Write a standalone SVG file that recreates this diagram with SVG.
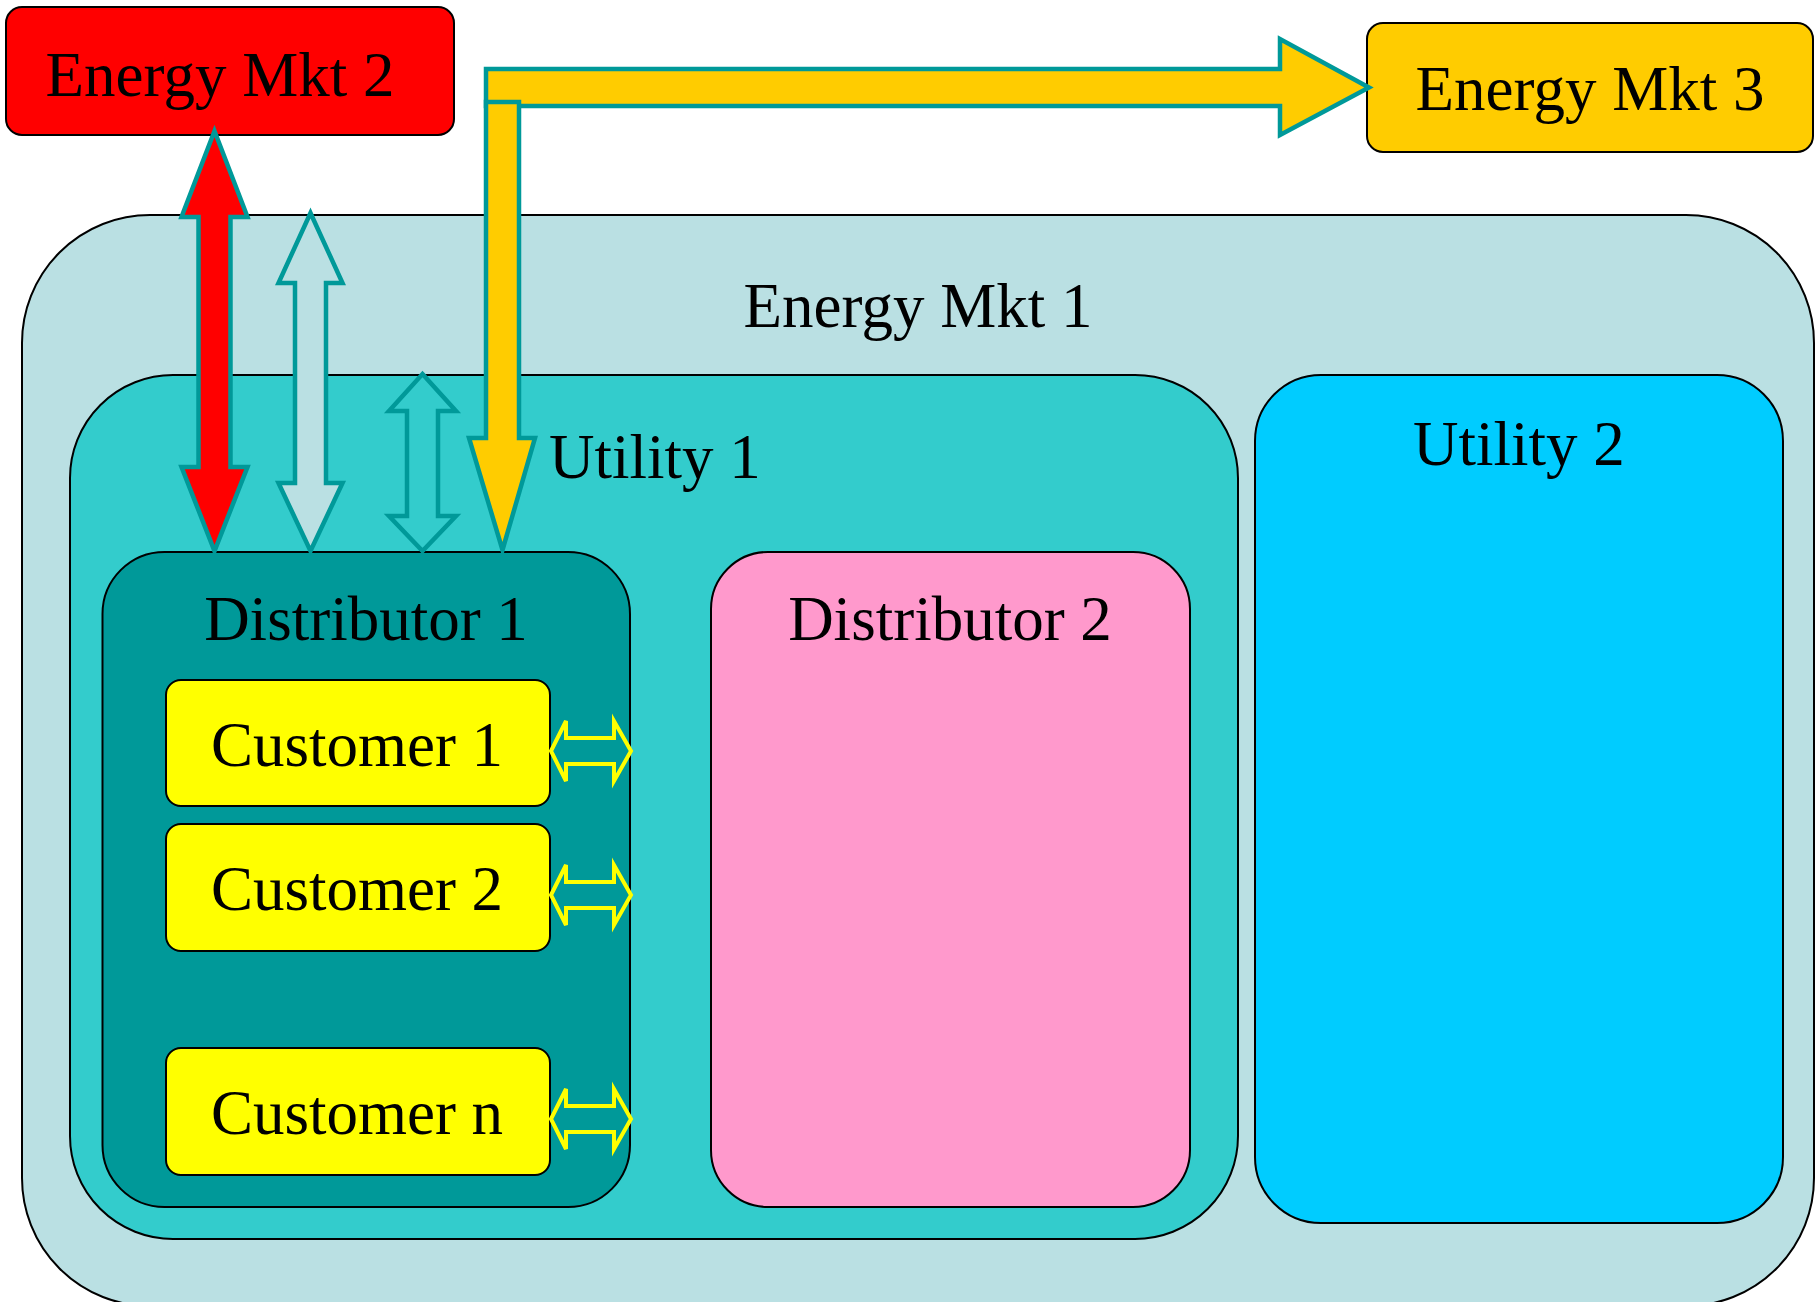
<svg xmlns="http://www.w3.org/2000/svg" width="1815" height="1302" viewBox="0 0 1815 1302">
<style>
.box{stroke:#000;stroke-width:2}
.lbl{font-family:"Liberation Serif","Times New Roman",serif;font-size:63px;fill:#000}
.mid{text-anchor:middle}
.arr{stroke:#009999;stroke-width:4.5;stroke-linejoin:miter}
.carr{stroke:#FFFF00;stroke-width:4;fill:#009999}
</style>
<rect width="1815" height="1302" fill="#fff"/>
<g id="energy-mkt-1">
<rect class="box" x="22" y="215" width="1792" height="1091" rx="128" fill="#BAE0E3"/>
<text class="lbl mid" x="918" y="327">Energy Mkt 1</text>
</g>
<g id="utility-1">
<rect class="box" x="70" y="375" width="1168" height="864" rx="103" fill="#33CCCC"/>
<text class="lbl" x="549" y="478">Utility 1</text>
</g>
<g id="utility-2">
<rect class="box" x="1255" y="375" width="528" height="848" rx="66" fill="#00CCFF"/>
<text class="lbl mid" x="1519" y="465">Utility 2</text>
</g>
<g id="distributor-1">
<rect class="box" x="102.5" y="552" width="527.5" height="655" rx="62" fill="#009999"/>
<text class="lbl mid" x="366" y="640">Distributor 1</text>
</g>
<g id="distributor-2">
<rect class="box" x="711" y="552" width="479" height="655" rx="57" fill="#FF99CC"/>
<text class="lbl mid" x="950" y="640">Distributor 2</text>
</g>
<g id="customer-1">
<rect class="box" x="166" y="680" width="384" height="126" rx="15" fill="#FFFF00"/>
<text class="lbl mid" x="357" y="766">Customer 1</text>
</g>
<g id="customer-2">
<rect class="box" x="166" y="824" width="384" height="127" rx="15" fill="#FFFF00"/>
<text class="lbl mid" x="357" y="910">Customer 2</text>
</g>
<g id="customer-n">
<rect class="box" x="166" y="1048" width="384" height="127" rx="15" fill="#FFFF00"/>
<text class="lbl mid" x="357" y="1134">Customer n</text>
</g>
<g id="energy-mkt-2">
<rect class="box" x="6" y="7" width="448" height="128" rx="16" fill="#FF0000"/>
<text class="lbl mid" x="220" y="96">Energy Mkt 2</text>
</g>
<g id="energy-mkt-3">
<rect class="box" x="1367" y="23" width="446" height="129" rx="16" fill="#FFCC00"/>
<text class="lbl mid" x="1590" y="110">Energy Mkt 3</text>
</g>
<g id="connectors">
<polygon class="arr" fill="#FF0000" points="214.5,131 247.5,217 230.5,217 230.5,467 247.5,467 214.5,551 181.5,467 198.5,467 198.5,217 181.5,217"/>
<polygon class="arr" fill="#BAE0E3" points="310.5,213 342.5,283 326,283 326,483 342.5,483 310.5,551 278.5,483 295,483 295,283 278.5,283"/>
<polygon class="arr" fill="#33CCCC" points="422.5,374 456,411 438,411 438,516 456,516 422.5,551 389,516 407,516 407,411 389,411"/>
<polygon class="arr" fill="#FFCC00" points="486,69 1280,69 1280,39 1369,87.5 1280,135 1280,106 486,106"/>
<polygon class="arr" fill="#FFCC00" points="486,102 519,102 519,438 535,438 502.5,550 469,438 486,438"/>
<polygon class="carr" points="551,751 566,721 566,738 614,738 614,721 631,751 614,781 614,764 566,764 566,781"/>
<polygon class="carr" points="551,895 566,865 566,882 614,882 614,865 631,895 614,925 614,908 566,908 566,925"/>
<polygon class="carr" points="551,1119 566,1089 566,1106 614,1106 614,1089 631,1119 614,1149 614,1132 566,1132 566,1149"/>
</g>
</svg>
